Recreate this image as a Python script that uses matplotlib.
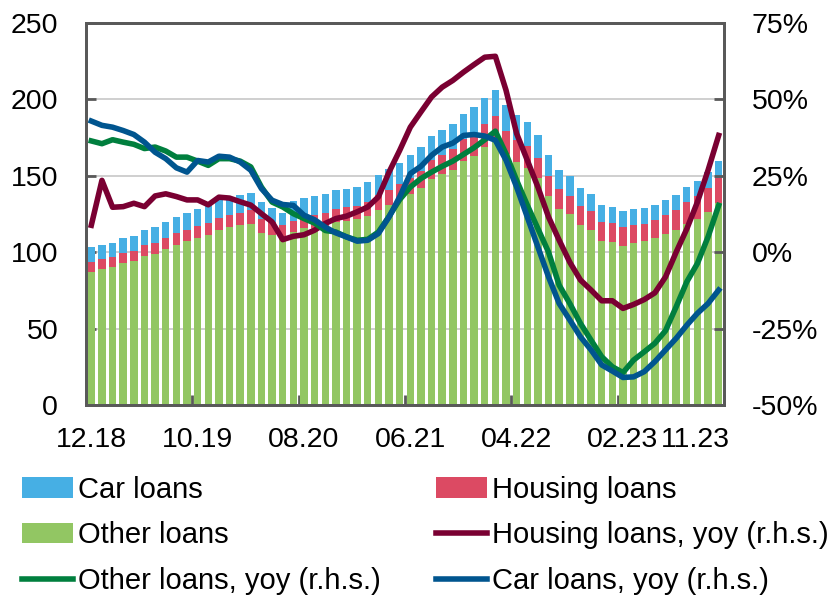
import matplotlib.pyplot as plt
import numpy as np
from matplotlib.transforms import ScaledTranslation

plt.rcParams['font.family'] = ['Liberation Sans', 'DejaVu Sans']
plt.rcParams['font.size'] = 20.5

tick_labels = ['12.18', '10.19', '08.20', '06.21', '04.22', '02.23', '11.23']
tick_idx = [0, 10, 20, 30, 40, 50, 59]

# stacked bars (l.h.s.)
other_loans = [87.1, 88.9, 90.2, 93.0, 93.9, 97.6, 99.1, 102.0, 104.8, 107.2,
               109.6, 111.3, 114.6, 116.6, 117.6, 118.7, 112.6, 111.5, 109.5, 113.0,
               115.5, 116.0, 117.0, 119.8, 120.5, 121.4, 123.7, 127.9, 130.7, 134.0,
               137.9, 142.0, 148.1, 150.9, 154.0, 159.7, 162.9, 168.8, 172.1, 164.5,
               159.1, 155.3, 148.6, 136.8, 128.5, 124.8, 118.1, 114.8, 107.4, 106.8,
               104.1, 105.9, 107.0, 109.4, 111.6, 114.8, 118.7, 121.6, 126.4, 132.5]
housing_loans = [6.6, 6.5, 6.7, 6.6, 7.0, 7.0, 7.2, 7.6, 7.8, 7.4,
                 7.8, 7.7, 8.0, 7.6, 8.1, 8.6, 9.0, 8.5, 8.0, 7.5,
                 8.0, 8.5, 8.7, 8.7, 9.1, 8.9, 9.2, 9.3, 10.0, 10.4,
                 10.8, 11.2, 12.4, 12.5, 13.8, 14.2, 14.5, 15.3, 16.8, 14.8,
                 14.1, 14.0, 13.3, 12.9, 12.7, 12.0, 12.2, 12.0, 12.4, 12.4,
                 12.5, 12.0, 11.7, 11.5, 12.6, 13.1, 14.2, 15.0, 15.6, 16.1]
car_loans = [9.4, 9.2, 9.4, 9.8, 9.8, 10.0, 10.3, 10.0, 10.5, 11.1,
             11.1, 11.7, 11.9, 11.3, 11.8, 11.7, 11.1, 9.0, 8.0, 12.8,
             12.2, 12.5, 12.2, 12.5, 12.0, 12.4, 12.8, 13.1, 14.0, 14.2,
             14.7, 15.6, 15.3, 16.8, 16.3, 16.8, 17.6, 17.0, 17.4, 16.8,
             16.3, 15.9, 14.6, 13.7, 12.8, 12.9, 11.9, 11.5, 10.9, 10.4,
             10.2, 10.2, 10.1, 10.3, 9.8, 9.8, 9.8, 10.0, 10.5, 11.1]

# yoy growth, % (r.h.s.)
housing_yoy = [8.8, 23.5, 14.7, 14.9, 16.0, 14.9, 18.4, 19.1, 18.2, 17.1,
               17.1, 15.5, 18.0, 17.7, 16.5, 15.4, 12.6, 9.9, 4.1, 5.2,
               5.7, 7.2, 9.4, 11.0, 11.8, 13.2, 14.8, 18.1, 26.2, 33.3,
               40.9, 45.9, 50.8, 54.0, 56.2, 58.9, 61.4, 63.8, 64.1, 53.0,
               38.8, 30.1, 21.3, 11.5, 3.9, -3.3, -9.1, -12.4, -15.9, -15.9,
               -18.4, -17.1, -15.5, -13.3, -8.1, 0.0, 7.6, 16.4, 26.8, 38.2]
other_yoy = [36.4, 35.5, 36.8, 36.0, 35.3, 33.9, 34.4, 33.1, 31.1, 31.1,
             29.8, 28.4, 30.6, 30.6, 29.8, 27.9, 21.3, 16.4, 14.8, 12.6,
             11.0, 9.5, 7.1, 6.6, 5.0, 3.9, 4.2, 6.6, 11.7, 17.2,
             21.3, 24.1, 26.2, 28.1, 29.8, 32.0, 34.2, 36.8, 39.6, 32.2,
             23.5, 15.4, 7.7, 0.0, -10.8, -16.8, -23.3, -28.8, -34.2, -37.5,
             -39.4, -35.3, -32.6, -29.8, -25.7, -17.9, -9.7, -3.7, 5.0, 15.3]
car_yoy = [42.9, 41.5, 40.9, 39.8, 38.5, 36.0, 32.7, 30.6, 27.6, 26.2,
           30.0, 29.5, 31.4, 31.1, 29.5, 26.8, 20.8, 17.0, 15.6, 15.3,
           12.1, 10.6, 8.2, 6.3, 5.0, 3.6, 3.9, 6.1, 11.5, 18.1,
           25.7, 28.1, 31.7, 34.4, 35.7, 38.2, 38.5, 38.0, 36.6, 30.1,
           21.3, 11.5, 1.7, -8.1, -16.8, -22.2, -27.7, -32.0, -36.9, -38.9,
           -41.0, -40.8, -39.1, -35.8, -32.0, -28.2, -23.9, -20.0, -16.8, -12.4]

c_other, c_housing, c_car = '#92c663', '#dc4a63', '#46afe4'
c_hy, c_oy, c_cy = '#7a0032', '#007f3e', '#00558f'
spine_c = '#595959'

x = np.arange(len(other_loans))
other = np.array(other_loans)
housing = np.array(housing_loans)
car = np.array(car_loans)

fig = plt.figure(figsize=(8.34, 6.03), dpi=100)
ax = fig.add_axes([0.1031, 0.3284, 0.765, 0.6335])

b_other = ax.bar(x, other, width=0.7, color=c_other, label='Other loans')
b_housing = ax.bar(x, housing, width=0.7, bottom=other, color=c_housing, label='Housing loans')
b_car = ax.bar(x, car, width=0.7, bottom=other + housing, color=c_car, label='Car loans')

ax.set_xlim(-0.5, len(x) - 0.5)
ax.set_ylim(0, 250)
ax.set_yticks(range(0, 251, 50))
ax.yaxis.grid(True, color='#cccccc', lw=1.3)
ax.set_axisbelow(True)

ax.set_xticks(np.arange(-0.5, len(x), 10))
ax.set_xticklabels([])
ax.set_xticks(tick_idx, minor=True)
ax.set_xticklabels(tick_labels, minor=True)
ax.tick_params(axis='x', which='major', direction='in', length=7, width=2, color=spine_c)
ax.tick_params(axis='x', which='minor', length=0, pad=16)
ax.tick_params(axis='y', direction='in', length=7, width=2, color=spine_c, pad=20)
last = ax.get_xticklabels(minor=True)[-1]
last.set_transform(last.get_transform() + ScaledTranslation(-0.23, 0, fig.dpi_scale_trans))

ax2 = ax.twinx()
l_h, = ax2.plot(x, housing_yoy, color=c_hy, lw=4, label='Housing loans, yoy (r.h.s.)')
l_o, = ax2.plot(x, other_yoy, color=c_oy, lw=4, label='Other loans, yoy (r.h.s.)')
l_c, = ax2.plot(x, car_yoy, color=c_cy, lw=4, label='Car loans, yoy (r.h.s.)')
ax2.set_ylim(-50, 75)
ax2.set_yticks(range(-50, 76, 25))
ax2.set_yticklabels([f'{v}%' for v in range(-50, 76, 25)])
ax2.tick_params(axis='y', direction='in', length=7, width=2, color=spine_c, pad=20)

for a in (ax, ax2):
    for s in a.spines.values():
        s.set_color(spine_c)
        s.set_linewidth(2)

handles = [b_car, b_other, l_o, b_housing, l_h, l_c]
fig.legend(handles, [h.get_label() for h in handles], ncol=2, loc='upper left',
           bbox_to_anchor=(0.026, 0.211), frameon=False, fontsize=21,
           handlelength=1.75, handletextpad=0.18, columnspacing=1.9,
           labelspacing=0.6, borderaxespad=0, borderpad=0)

fig.savefig('out.png', dpi=100)
